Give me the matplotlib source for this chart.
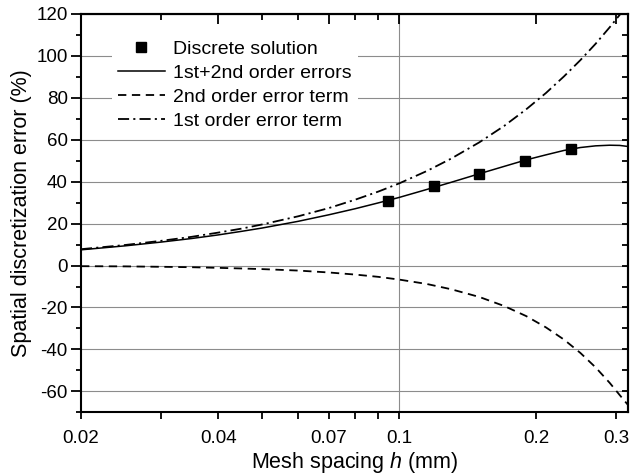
import matplotlib
matplotlib.use("Agg")
import matplotlib.pyplot as plt
from matplotlib.ticker import FixedLocator, NullFormatter, FixedFormatter

# =========== DATA ===========
# mesh spacing (mm) for the curves
h_curve = [0.02, 0.025, 0.03, 0.035, 0.04, 0.045, 0.05, 0.06, 0.07, 0.08,
           0.09, 0.1, 0.115, 0.13, 0.15, 0.17, 0.19, 0.21, 0.23, 0.25,
           0.27, 0.29, 0.305, 0.318]
err_total = [7.5, 9.4, 11.2, 12.9, 14.6, 16.3, 17.9, 21.1, 24.2, 27.1,
             29.9, 32.5, 36.3, 39.7, 43.8, 47.3, 50.4, 52.8, 54.9, 56.3,
             57.1, 57.4, 57.3, 56.8]
err_2nd = [-0.3, -0.4, -0.6, -0.8, -1.1, -1.4, -1.7, -2.4, -3.3, -4.3,
           -5.4, -6.7, -8.8, -11.3, -15.0, -19.3, -24.1, -29.5, -35.3, -41.7,
           -48.6, -56.0, -61.8, -66.5]
err_1st = [7.8, 9.8, 11.8, 13.7, 15.7, 17.6, 19.6, 23.5, 27.4, 31.4,
           35.3, 39.2, 45.1, 51.0, 58.8, 66.6, 74.5, 82.3, 90.2, 98.0,
           105.8, 113.7, 119.6, 124.7]

# discrete solution points
h_discrete = [0.0945, 0.119, 0.150, 0.189, 0.238]
err_discrete = [30.7, 37.9, 43.6, 49.7, 55.4]

x_major = [0.02, 0.04, 0.07, 0.1, 0.2, 0.3]
x_major_labels = ["0.02", "0.04", "0.07", "0.1", "0.2", "0.3"]
x_minor = [0.03, 0.05, 0.06, 0.08, 0.09]
y_major = [-60, -40, -20, 0, 20, 40, 60, 80, 100, 120]
y_minor = [-70, -50, -30, -10, 10, 30, 50, 70, 90, 110]

# =========== STYLE ===========
plt.rcParams["font.family"] = ["Liberation Sans", "DejaVu Sans"]
plt.rcParams["mathtext.fontset"] = "custom"
plt.rcParams["mathtext.rm"] = "Liberation Sans"
plt.rcParams["mathtext.it"] = "Liberation Sans:italic"
plt.rcParams["lines.scale_dashes"] = False
plt.rcParams["axes.unicode_minus"] = False

grid_color = "#8c8c8c"

fig = plt.figure(figsize=(6.3, 4.74), dpi=100)
ax = fig.add_axes([0.1286, 0.1302, 0.8682, 0.8403])

ax.set_xscale("log")
ax.set_xlim(0.02, 0.318)
ax.set_ylim(-70, 120)

# grid
for yv in y_major:
    ax.axhline(yv, color=grid_color, lw=0.8, zorder=0)
ax.axvline(0.1, color=grid_color, lw=0.8, zorder=0)

# curves
ax.plot(h_discrete, err_discrete, ls="none", marker="s", ms=7.5,
        color="black", label="Discrete solution", zorder=5)
ax.plot(h_curve, err_total, color="black", lw=1.1, label="1st+2nd order errors")
ax.plot(h_curve, err_2nd, color="black", lw=1.3, ls=(0, (6, 4)),
        label="2nd order error term")
ax.plot(h_curve, err_1st, color="black", lw=1.3, ls=(0, (8, 3, 1.5, 3)),
        label="1st order error term")

# ticks
ax.xaxis.set_major_locator(FixedLocator(x_major))
ax.xaxis.set_major_formatter(FixedFormatter(x_major_labels))
ax.xaxis.set_minor_locator(FixedLocator(x_minor))
ax.xaxis.set_minor_formatter(NullFormatter())
ax.yaxis.set_major_locator(FixedLocator(y_major))
ax.yaxis.set_minor_locator(FixedLocator(y_minor))

ax.tick_params(axis="x", which="both", direction="out", length=5, width=1.3,
               labelsize=13.5, pad=8)
ax.tick_params(axis="y", which="major", direction="out", length=7.5, width=1.3,
               labelsize=13.5, pad=2)
ax.tick_params(axis="y", which="minor", direction="out", length=3.8, width=1.3)

for sp in ax.spines.values():
    sp.set_linewidth(1.5)

# mirrored ticks on top and right, pointing inward
top = ax.secondary_xaxis("top")
top.xaxis.set_major_locator(FixedLocator(x_major))
top.xaxis.set_minor_locator(FixedLocator(x_minor))
top.xaxis.set_major_formatter(NullFormatter())
top.xaxis.set_minor_formatter(NullFormatter())
top.tick_params(which="major", direction="in", length=7, width=1.3)
top.tick_params(which="minor", direction="in", length=4, width=1.3)
top.spines["top"].set_linewidth(1.5)

right = ax.secondary_yaxis("right")
right.yaxis.set_major_locator(FixedLocator(y_major))
right.yaxis.set_minor_locator(FixedLocator(y_minor))
right.yaxis.set_major_formatter(NullFormatter())
right.yaxis.set_minor_formatter(NullFormatter())
right.tick_params(which="both", direction="in", length=4.5, width=1.3)
right.spines["right"].set_linewidth(1.5)

ax.set_xlabel("Mesh spacing $\\mathit{h}$ (mm)", fontsize=15.5, labelpad=2)
ax.set_ylabel("Spatial discretization error (%)", fontsize=15.5, labelpad=3)

leg = ax.legend(loc="upper left", bbox_to_anchor=(0.057, 0.948), fontsize=14,
                frameon=True, framealpha=1, facecolor="white", edgecolor="none",
                fancybox=False, handlelength=2.4, handletextpad=0.45,
                labelspacing=0.32, borderpad=0.3, borderaxespad=0)

fig.savefig("out.png", dpi=100)
